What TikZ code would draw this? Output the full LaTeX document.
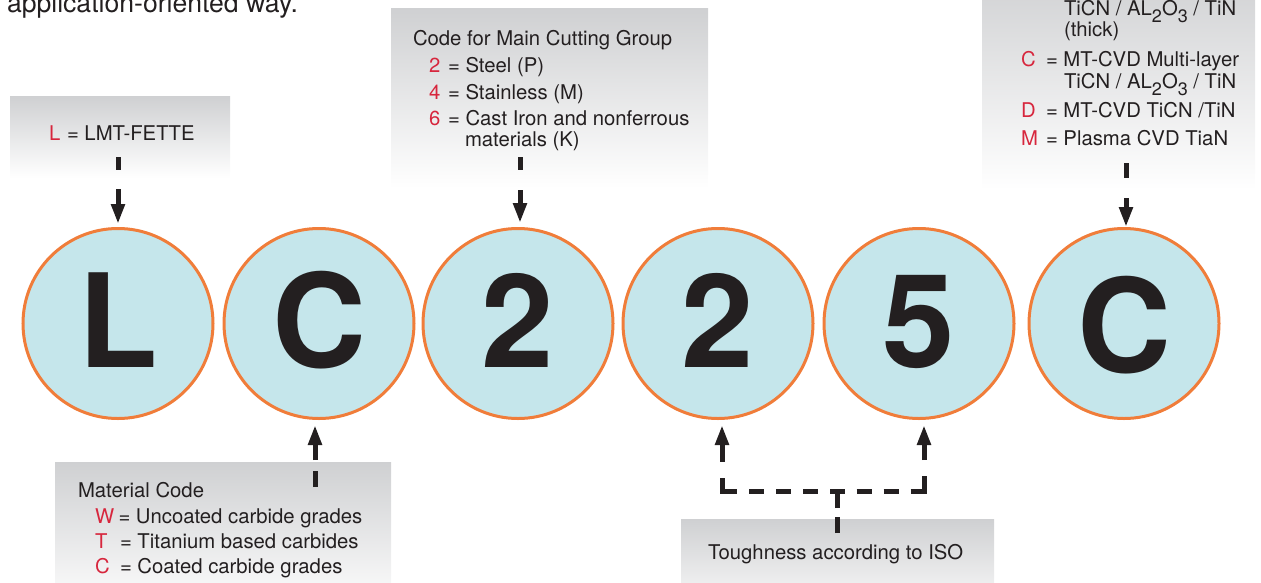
\documentclass[tikz,border=0pt]{standalone}
\usepackage{fontspec}
\setmainfont{TeX Gyre Heros}
\usetikzlibrary{arrows.meta}
\definecolor{ink}{HTML}{231F20}
\definecolor{codered}{HTML}{D7263D}
\definecolor{circfill}{HTML}{C5E6EB}
\definecolor{circline}{HTML}{F07D3A}
\definecolor{boxgray}{HTML}{CFD0D2}
\newcommand\lsub[1]{\raisebox{-7pt}{\fontsize{18}{18}\selectfont #1}}
\newcommand\rc[2]{\makebox[#1][l]{\textcolor{codered}{#2}}}
\begin{document}
\begin{tikzpicture}[x=1pt,y=-1pt,
  every node/.style={inner sep=0pt, outer sep=0pt},
  txt/.style={anchor=base west, text=ink, font=\fontsize{20.3}{25}\selectfont},
  titletxt/.style={anchor=base west, text=ink, font=\fontsize{26.6}{30}\selectfont},
  digit/.style={circle, draw=circline, line width=3pt, fill=circfill, minimum size=190pt,
    text=ink, font=\fontsize{130}{130}\selectfont\bfseries, text height=93pt, text depth=6pt},
  infobox/.style={rectangle, anchor=north west, top color=boxgray, bottom color=white, draw=none},
  conn/.style={draw=ink, line width=5pt, -{Triangle[length=20pt,width=13pt]}},
  stem/.style={draw=ink, line width=5pt},
]
\clip (0,0) rectangle (1261,582);

% info boxes
\node[infobox, minimum width=220pt, minimum height=82pt] (b1) at (10,96) {};
\node[infobox, minimum width=317pt, minimum height=180pt] (b2) at (391,8) {};
\node[infobox, minimum width=273pt, minimum height=220pt] (b3) at (982,-30) {};
\node[infobox, minimum width=336pt, minimum height=150pt] (b4) at (55,462) {};
\node[infobox, minimum width=313pt, minimum height=100pt] (b5) at (681,519) {};

% code circles
\node[digit] (c1) at (118,323.5) {L};
\node[digit] (c2) at (319,323.5) {C};
\node[digit] (c3) at (518,323.5) {2};
\node[digit] (c4) at (718,323.5) {2};
\node[digit] (c5) at (919,323.5) {5};
\node[digit, text height=97pt, text depth=0pt] (c6) at (1124,323.5) {C};

% texts
\node[titletxt] (t0) at (7,12) {application-oriented way.};

\node[txt] (t1) at (49,140) {\rc{18pt}{L}= LMT-FETTE};

\node[txt] (t2a) at (413,45) {Code for Main Cutting Group};
\node[txt] (t2b) at (429,72.7) {\rc{19pt}{2}= Steel (P)};
\node[txt] (t2c) at (429,99) {\rc{19pt}{4}= Stainless (M)};
\node[txt] (t2d) at (429,125) {\rc{19pt}{6}= Cast Iron and nonferrous};
\node[txt] (t2e) at (465,146.7) {materials (K)};

\node[txt] (t3a) at (1064,15) {TiCN / AL\lsub{2}O\lsub{3} / TiN};
\node[txt] (t3b) at (1064,36.7) {(thick)};
\node[txt] (t3c) at (1021,66) {\rc{25pt}{C}= MT-CVD Multi-layer};
\node[txt] (t3d) at (1064,88) {TiCN / AL\lsub{2}O\lsub{3} / TiN};
\node[txt] (t3e) at (1021,117) {\rc{25pt}{D}= MT-CVD TiCN /TiN};
\node[txt] (t3f) at (1021,145.7) {\rc{25pt}{M}= Plasma CVD TiaN};

\node[txt] (t4a) at (78,497.3) {Material Code};
\node[txt] (t4b) at (95,523.3) {\rc{23.5pt}{W}= Uncoated carbide grades};
\node[txt] (t4c) at (95,548.3) {\rc{25pt}{T}= Titanium based carbides};
\node[txt] (t4d) at (95,573.3) {\rc{25pt}{C}= Coated carbide grades};

\node[txt] (t5) at (708,559.3) {Toughness according to ISO};

% connectors
\coordinate (s1) at (118,157);
\coordinate (s2) at (520,157);
\coordinate (s3) at (1126,163);
\coordinate (s4) at (315,487);
\coordinate (s5) at (837,533);
\coordinate (j) at (837,491);

\draw[conn, dash pattern=on 13pt off 19pt on 200pt, shorten >=4.5pt] (s1) -- (c1.north);
\draw[conn, dash pattern=on 13pt off 20pt on 200pt, shorten >=5.5pt] (s2) -- (s2 |- c3.north);
\draw[conn, dash pattern=on 15pt off 20pt on 200pt, shorten >=1.5pt] (s3) -- (s3 |- c6.north);
\draw[conn, dash pattern=on 16pt off 11pt on 200pt, shorten >=6.5pt] (s4) -- (s4 |- c2.south);

\draw[stem, dash pattern=on 16pt off 9pt on 50pt] (s5) -- (j);
\draw[conn, dash pattern=on 7.5pt off 12pt on 15pt off 12pt on 15pt off 12pt on 15pt off 12pt on 28pt off 16pt on 200pt, shorten >=6.5pt]
  (j) -| ([xshift=4pt]c4.south);
\draw[conn, dash pattern=on 7.5pt off 12pt on 15pt off 12pt on 15pt off 12pt on 28.5pt off 16pt on 200pt, shorten >=6.5pt]
  (j) -| ([xshift=5pt]c5.south);
\end{tikzpicture}
\end{document}
